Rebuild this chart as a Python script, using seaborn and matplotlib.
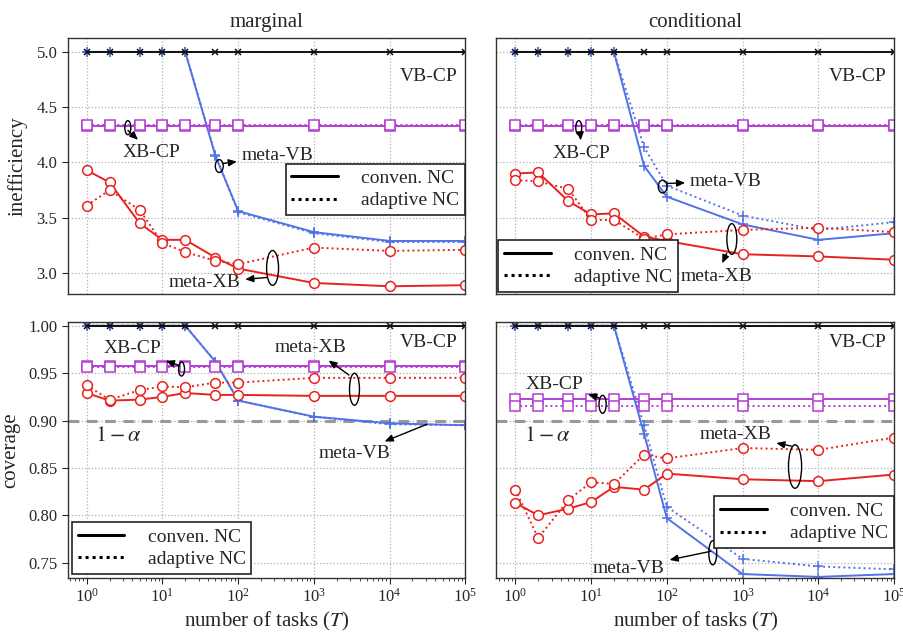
import matplotlib
matplotlib.use("Agg")
from matplotlib import pyplot as plt
from matplotlib.lines import Line2D
from matplotlib.patches import Ellipse
import seaborn as sns


# number of meta-training tasks
T = [1, 2, 5, 10, 20, 50, 100, 1000, 10000, 100000]

# inefficiency, marginal
marg_ineff_vb_cp = [5.00, 5.00, 5.00, 5.00, 5.00, 5.00, 5.00, 5.00, 5.00, 5.00]
marg_ineff_xb_cp_conv = [4.33, 4.33, 4.33, 4.33, 4.33, 4.33, 4.33, 4.33, 4.33, 4.33]
marg_ineff_xb_cp_adap = [4.34, 4.34, 4.34, 4.34, 4.34, 4.34, 4.34, 4.34, 4.34, 4.34]
marg_ineff_meta_vb_conv = [5.00, 5.00, 5.00, 5.00, 5.00, 4.06, 3.56, 3.37, 3.29, 3.29]
marg_ineff_meta_vb_adap = [5.00, 5.00, 5.00, 5.00, 5.00, 4.07, 3.55, 3.36, 3.28, 3.28]
marg_ineff_meta_xb_conv = [3.93, 3.82, 3.45, 3.30, 3.30, 3.14, 3.04, 2.91, 2.88, 2.89]
marg_ineff_meta_xb_adap = [3.61, 3.75, 3.57, 3.27, 3.19, 3.11, 3.08, 3.23, 3.20, 3.21]

# inefficiency, conditional
cond_ineff_vb_cp = [5.00, 5.00, 5.00, 5.00, 5.00, 5.00, 5.00, 5.00, 5.00, 5.00]
cond_ineff_xb_cp_conv = [4.33, 4.33, 4.33, 4.33, 4.33, 4.33, 4.33, 4.33, 4.33, 4.33]
cond_ineff_xb_cp_adap = [4.34, 4.34, 4.34, 4.34, 4.34, 4.34, 4.34, 4.34, 4.34, 4.34]
cond_ineff_meta_vb_conv = [5.00, 5.00, 5.00, 5.00, 5.00, 3.97, 3.69, 3.44, 3.30, 3.36]
cond_ineff_meta_vb_adap = [5.00, 5.00, 5.00, 5.00, 5.00, 4.14, 3.79, 3.52, 3.39, 3.46]
cond_ineff_meta_xb_conv = [3.90, 3.91, 3.65, 3.53, 3.54, 3.33, 3.29, 3.17, 3.15, 3.12]
cond_ineff_meta_xb_adap = [3.84, 3.83, 3.76, 3.48, 3.48, 3.31, 3.35, 3.39, 3.41, 3.37]

# coverage, marginal
marg_cov_vb_cp = [1.00, 1.00, 1.00, 1.00, 1.00, 1.00, 1.00, 1.00, 1.00, 1.00]
marg_cov_xb_cp_conv = [0.957, 0.957, 0.957, 0.957, 0.957, 0.957, 0.957, 0.957, 0.957, 0.957]
marg_cov_xb_cp_adap = [0.956, 0.956, 0.956, 0.956, 0.956, 0.956, 0.956, 0.956, 0.956, 0.956]
marg_cov_meta_vb_conv = [1.00, 1.00, 1.00, 1.00, 1.00, 0.962, 0.921, 0.904, 0.897, 0.895]
marg_cov_meta_vb_adap = [1.00, 1.00, 1.00, 1.00, 1.00, 0.962, 0.921, 0.904, 0.896, 0.895]
marg_cov_meta_xb_conv = [0.929, 0.921, 0.922, 0.925, 0.929, 0.927, 0.927, 0.926, 0.926, 0.926]
marg_cov_meta_xb_adap = [0.937, 0.922, 0.932, 0.936, 0.935, 0.940, 0.940, 0.945, 0.945, 0.945]

# coverage, conditional
cond_cov_vb_cp = [1.00, 1.00, 1.00, 1.00, 1.00, 1.00, 1.00, 1.00, 1.00, 1.00]
cond_cov_xb_cp_conv = [0.923, 0.923, 0.923, 0.923, 0.923, 0.923, 0.923, 0.923, 0.923, 0.923]
cond_cov_xb_cp_adap = [0.915, 0.915, 0.915, 0.915, 0.915, 0.915, 0.915, 0.915, 0.915, 0.915]
cond_cov_meta_vb_conv = [1.00, 1.00, 1.00, 1.00, 1.00, 0.886, 0.797, 0.738, 0.735, 0.738]
cond_cov_meta_vb_adap = [1.00, 1.00, 1.00, 1.00, 1.00, 0.895, 0.809, 0.754, 0.746, 0.743]
cond_cov_meta_xb_conv = [0.813, 0.800, 0.807, 0.814, 0.830, 0.827, 0.844, 0.838, 0.836, 0.843]
cond_cov_meta_xb_adap = [0.827, 0.776, 0.816, 0.835, 0.833, 0.864, 0.860, 0.871, 0.869, 0.882]

TARGET = 0.9

BLUE = "#5272e6"
RED = "#e8231f"
PURPLE = "#b23fd2"
BLACK = "#111111"
SOLID = "-"
DOTTED = (0, (1, 1.6))

sns.set_style("ticks")
plt.rcParams["font.family"] = ["Liberation Serif", "DejaVu Serif"]
plt.rcParams["mathtext.fontset"] = "stix"


def draw_panel(ax, meta_vb, meta_xb, xb_cp, vb_cp):
    series = [
        (meta_vb[0], BLUE, "+", SOLID, 7),
        (meta_vb[1], BLUE, "+", DOTTED, 7),
        (xb_cp[0], PURPLE, "s", SOLID, 6.5),
        (xb_cp[1], PURPLE, "s", DOTTED, 6.5),
        (vb_cp, BLACK, "x", SOLID, 5),
        (meta_xb[0], RED, "o", SOLID, 7),
        (meta_xb[1], RED, "o", DOTTED, 7),
    ]
    for vals, color, marker, ls, ms in series:
        sns.lineplot(x=T, y=vals, ax=ax, color=color, linestyle=ls, lw=1.4,
                     marker=marker, ms=ms, mfc="white", mec=color, mew=1.1)
    ax.set_xscale("log")
    ax.set_xlim(10 ** -0.25, 1e5)
    ax.grid(True, which="major", ls=":", color="#b0b0b0", lw=0.9)
    ax.tick_params(axis="both", which="major", labelsize=12, length=4)
    for s in ax.spines.values():
        s.set_color("#333333")
        s.set_linewidth(1.0)


def add_legend(ax, **kw):
    handles = [Line2D([], [], color="k", lw=2.2, ls=SOLID),
               Line2D([], [], color="k", lw=2.2, ls=(0, (1, 1.3)))]
    leg = ax.legend(handles, ["conven. NC", "adaptive NC"], fontsize=14,
                    fancybox=False, framealpha=1, edgecolor="#222222",
                    handlelength=2.4, labelspacing=0.25, borderpad=0.3,
                    handletextpad=1.2, **kw)
    leg.get_frame().set_linewidth(1.2)


def note(ax, text, tail, pos):
    ax.annotate(text, xy=tail, xytext=pos, ha="center", va="center", fontsize=14,
                arrowprops=dict(arrowstyle="<|-,head_length=0.35,head_width=0.15",
                                color="k", lw=1.0, shrinkA=1, shrinkB=0))


def loop(ax, cx, cy, w, h):
    ax.add_patch(Ellipse((cx, cy), w, h, transform=ax.transAxes, fill=False,
                         ec="k", lw=1.0, zorder=5))


def main():
    fig, axes = plt.subplots(2, 2, figsize=(9.04, 6.35), dpi=100, sharex=True)
    fig.subplots_adjust(left=0.075, right=0.989, top=0.94, bottom=0.09,
                        wspace=0.078, hspace=0.109)
    ax_mi, ax_ci = axes[0]
    ax_mc, ax_cc = axes[1]

    draw_panel(ax_mi, (marg_ineff_meta_vb_conv, marg_ineff_meta_vb_adap),
               (marg_ineff_meta_xb_conv, marg_ineff_meta_xb_adap),
               (marg_ineff_xb_cp_conv, marg_ineff_xb_cp_adap), marg_ineff_vb_cp)
    draw_panel(ax_ci, (cond_ineff_meta_vb_conv, cond_ineff_meta_vb_adap),
               (cond_ineff_meta_xb_conv, cond_ineff_meta_xb_adap),
               (cond_ineff_xb_cp_conv, cond_ineff_xb_cp_adap), cond_ineff_vb_cp)
    draw_panel(ax_mc, (marg_cov_meta_vb_conv, marg_cov_meta_vb_adap),
               (marg_cov_meta_xb_conv, marg_cov_meta_xb_adap),
               (marg_cov_xb_cp_conv, marg_cov_xb_cp_adap), marg_cov_vb_cp)
    draw_panel(ax_cc, (cond_cov_meta_vb_conv, cond_cov_meta_vb_adap),
               (cond_cov_meta_xb_conv, cond_cov_meta_xb_adap),
               (cond_cov_xb_cp_conv, cond_cov_xb_cp_adap), cond_cov_vb_cp)

    for ax in (ax_mi, ax_ci):
        ax.set_ylim(2.81, 5.125)
        ax.set_yticks([3.0, 3.5, 4.0, 4.5, 5.0])
    for ax in (ax_mc, ax_cc):
        ax.set_ylim(0.734, 1.004)
        ax.set_yticks([0.75, 0.80, 0.85, 0.90, 0.95, 1.00])
        ax.axhline(TARGET, color="#999999", lw=2.2, ls=(0, (3.5, 2.5)), zorder=1.5)
        ax.set_xlabel("number of tasks ($T$)", fontsize=15, labelpad=3)
        ax.set_xticks([1, 10, 100, 1000, 10000, 100000])
    for ax in (ax_ci, ax_cc):
        ax.tick_params(axis="y", labelleft=False, left=False)
    for ax in (ax_mi, ax_ci):
        ax.tick_params(axis="x", which="both", bottom=False, labelbottom=False)
    ax_mi.set_yticklabels(["3.0", "3.5", "4.0", "4.5", "5.0"])
    ax_mc.set_yticklabels(["0.75", "0.80", "0.85", "0.90", "0.95", "1.00"])

    ax_mi.set_title("marginal", fontsize=15, pad=8)
    ax_ci.set_title("conditional", fontsize=15, pad=8)
    ax_mi.set_ylabel("inefficiency", fontsize=15, labelpad=6)
    ax_mc.set_ylabel("coverage", fontsize=15, labelpad=6)

    for ax in axes.flat:
        ax.text(0.98, 0.85 if ax in (ax_mi, ax_ci) else 0.92, "VB-CP",
                transform=ax.transAxes, ha="right", va="center", fontsize=14)

    # marginal inefficiency
    loop(ax_mi, 0.151, 0.65, 0.015, 0.055)
    note(ax_mi, "XB-CP", (3.5, 4.29), (7.2, 4.09))
    loop(ax_mi, 0.381, 0.50, 0.02, 0.05)
    note(ax_mi, "meta-VB", (62, 3.99), (330, 4.06))
    loop(ax_mi, 0.515, 0.102, 0.03, 0.136)
    note(ax_mi, "meta-XB", (240, 2.96), (36, 2.91))
    add_legend(ax_mi, loc="upper right", bbox_to_anchor=(1.0, 0.51), borderaxespad=0)

    # conditional inefficiency
    loop(ax_ci, 0.207, 0.65, 0.015, 0.055)
    note(ax_ci, "XB-CP", (7.2, 4.26), (7.4, 4.08))
    loop(ax_ci, 0.418, 0.42, 0.022, 0.05)
    note(ax_ci, "meta-VB", (100, 3.81), (600, 3.83))
    loop(ax_ci, 0.592, 0.215, 0.025, 0.12)
    note(ax_ci, "meta-XB", (617, 3.18), (453, 2.97))
    add_legend(ax_ci, loc="lower left", borderaxespad=0.1)

    # marginal coverage
    ax_mc.text(1.27, 0.883, "$1-\\alpha$", ha="left", va="center", fontsize=16)
    loop(ax_mc, 0.286, 0.816, 0.015, 0.055)
    note(ax_mc, "XB-CP", (16.7, 0.958), (4.0, 0.9755))
    loop(ax_mc, 0.721, 0.737, 0.025, 0.125)
    note(ax_mc, "meta-XB", (2900, 0.948), (912, 0.9766))
    note(ax_mc, "meta-VB", (3.1e4, 0.896), (3400, 0.865))
    add_legend(ax_mc, loc="lower left", borderaxespad=0.2)

    # conditional coverage
    ax_cc.text(1.31, 0.883, "$1-\\alpha$", ha="left", va="center", fontsize=16)
    loop(ax_cc, 0.267, 0.678, 0.018, 0.07)
    note(ax_cc, "XB-CP", (12.7, 0.924), (3.3, 0.938))
    loop(ax_cc, 0.751, 0.435, 0.033, 0.17)
    note(ax_cc, "meta-XB", (4400, 0.873), (810, 0.885))
    loop(ax_cc, 0.544, 0.098, 0.02, 0.094)
    note(ax_cc, "meta-VB", (380, 0.762), (31.6, 0.744))
    add_legend(ax_cc, loc="upper right", bbox_to_anchor=(1.0, 0.318), borderaxespad=0)

    fig.savefig("out.png", dpi=100)


if __name__ == "__main__":
    main()
